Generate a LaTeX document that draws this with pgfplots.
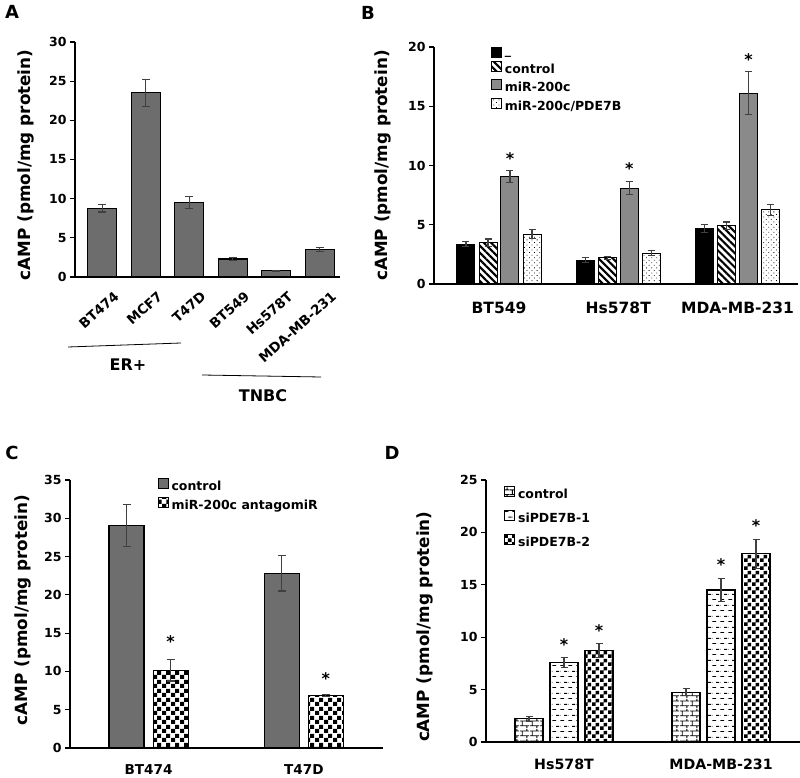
\documentclass[border=0pt]{standalone}
\usepackage{pgfplots}
\pgfplotsset{compat=1.18}
\usetikzlibrary{patterns,patterns.meta}
\usepackage{fontspec}
\setmainfont{DejaVu Sans}
\newcommand\ft[1]{\fontsize{#1}{#1}\selectfont\bfseries}
\definecolor{barA}{HTML}{6D6D6D}
\definecolor{barB}{HTML}{8A8A8A}
\definecolor{barC}{HTML}{6E6E6E}
\definecolor{errc}{HTML}{404040}

\tikzdeclarepattern{
  name=bricksD,
  bottom left={(0pt,0pt)}, top right={(10pt,10pt)}, tile size={(10pt,10pt)},
  code={\draw[line width=0.9pt] (0pt,2.5pt)--(10pt,2.5pt) (0pt,7.5pt)--(10pt,7.5pt) (2.5pt,2.5pt)--(2.5pt,7.5pt) (7.5pt,7.5pt)--(7.5pt,10pt) (7.5pt,0pt)--(7.5pt,2.5pt);}
}
\tikzdeclarepattern{
  name=dashD,
  bottom left={(0pt,0pt)}, top right={(8pt,11pt)}, tile size={(8pt,11pt)},
  code={\draw[line width=0.9pt] (0.5pt,2.75pt)--(4.5pt,2.75pt) (4.5pt,8.25pt)--(8pt,8.25pt) (0pt,8.25pt)--(0.5pt,8.25pt);}
}
\tikzdeclarepattern{
  name=checkC,
  bottom left={(0pt,0pt)}, top right={(9pt,9pt)}, tile size={(9pt,9pt)},
  code={\fill (0pt,0pt) rectangle (4.5pt,4.5pt) (4.5pt,4.5pt) rectangle (9pt,9pt);}
}
\tikzdeclarepattern{
  name=checkD,
  bottom left={(0pt,0pt)}, top right={(8pt,8pt)}, tile size={(8pt,8pt)},
  code={\fill (0pt,0pt) rectangle (4pt,4pt) (4pt,4pt) rectangle (8pt,8pt);}
}

\tikzset{astk/.style={font=\ft{16}, yshift=-3pt},
         plet/.style={font=\ft{18}}}
\pgfplotsset{
  panel/.style={
    scale only axis, anchor=south west,
    axis lines=left, axis line style={-, line width=1.3pt},
    ymin=0, tick align=outside, major tick length=5pt,
    ytick style={line width=1.1pt, black},
    xtick style={draw=none},
    /pgf/number format/assume math mode=true,
    yticklabel style={font=\ft{12.5}},
    xticklabel style={font=\ft{14}},
    ylabel={cAMP (pmol/mg protein)},
    ylabel style={font=\ft{16.8}, anchor=center},
    clip=false,
    legend cell align=left,
    legend style={draw=none, fill=none, font=\ft{12.5}, anchor=north west,
      nodes={inner sep=2pt}, /tikz/every odd column/.append style={column sep=1pt}},
    legend image code/.code={\draw[##1, line width=0.8pt] (0pt,-2pt) rectangle (10pt,8pt);},
    error bars/y dir=both, error bars/y explicit,
    error bars/error bar style={line width=1.1pt, color=errc},
    error bars/error mark options={rotate=90, line width=1.1pt, color=errc, mark size=4pt},
  },
}

\begin{document}
\begin{tikzpicture}[x=1pt,y=1pt]
\useasboundingbox (0,0) rectangle (800,777);

% ---------------- Panel A
\begin{axis}[panel, at={(75pt,500pt)}, width=265pt, height=235pt,
  xmin=-0.63, xmax=5.47, ymax=30, ytick={0,5,...,30},
  xtick={0,1,2,3,4,5},
  xticklabels={BT474,MCF7,T47D,BT549,Hs578T,MDA-MB-231},
  xticklabel style={rotate=42, anchor=north east, font=\ft{13.5}, xshift=6pt, yshift=-10pt},
  ylabel style={at={(axis description cs:-0.185,0.477)}}]
\addplot[ybar, bar width=29pt, bar shift=0pt, fill=barA, draw=black, line width=1.1pt]
  coordinates {(0,8.8) +- (0,0.5) (1,23.5) +- (0,1.75) (2,9.5) +- (0,0.8)
               (3,2.3) +- (0,0.15) (4,0.8) +- (0,0.08) (5,3.5) +- (0,0.3)};
\end{axis}
\draw[line width=0.8pt] (68,430) -- (181,434);
\node[font=\ft{16}] at (128,412) {ER+};
\draw[line width=0.8pt] (202,402) -- (321,400);
\node[font=\ft{16}] at (263,381) {TNBC};

% ---------------- Panel B
\begin{axis}[panel, at={(434pt,493pt)}, width=364pt, height=237pt,
  xmin=-0.545, xmax=2.507, ymax=20, ytick={0,5,...,20},
  xtick={0,1,2}, xticklabels={BT549,Hs578T,MDA-MB-231},
  xticklabel style={font=\ft{15.5}, yshift=-9pt},
  ylabel style={at={(axis description cs:-0.14,0.5)}},
  legend style={at={(axis description cs:0.148,1.008)}, row sep=2.5pt},
  error bars/error mark options={rotate=90, line width=1.1pt, color=errc, mark size=3.5pt}]
\addplot[ybar, bar width=18pt, bar shift=0pt, fill=black, draw=black, line width=1pt]
  coordinates {(-0.277,3.35) +- (0,0.22) (0.723,2.0) +- (0,0.2) (1.723,4.7) +- (0,0.34)};
\addplot[ybar, bar width=18pt, bar shift=0pt, fill=white, draw=black, line width=1pt,
  postaction={pattern={Lines[angle=-45,distance=5pt,line width=2.1pt]}}]
  coordinates {(-0.092,3.5) +- (0,0.3) (0.908,2.2) +- (0,0.15) (1.908,4.9) +- (0,0.33)};
\addplot[ybar, bar width=18pt, bar shift=0pt, fill=barB, draw=black, line width=1pt]
  coordinates {(0.092,9.05) +- (0,0.5) (1.092,8.1) +- (0,0.56) (2.092,16.1) +- (0,1.83)};
\addplot[ybar, bar width=18pt, bar shift=0pt, fill=white, draw=black, line width=1pt,
  postaction={pattern={Dots[radius=0.55pt,distance=3.6pt,angle=45]}}]
  coordinates {(0.277,4.2) +- (0,0.37) (1.277,2.6) +- (0,0.2) (2.277,6.25) +- (0,0.47)};
\legend{\_,control,miR-200c,miR-200c/PDE7B}
\node[astk] at (axis cs:0.092,10.8) {*};
\node[astk] at (axis cs:1.092,10.0) {*};
\node[astk] at (axis cs:2.092,19.2) {*};
\end{axis}

% ---------------- Panel C
\begin{axis}[panel, at={(70pt,29pt)}, width=313pt, height=268pt,
  xmin=-0.506, xmax=1.51, ymax=35, ytick={0,5,...,35},
  xtick={0,1}, xticklabels={BT474,T47D},
  xticklabel style={font=\ft{13.6}, yshift=-8pt},
  ylabel style={at={(axis description cs:-0.15,0.515)}},
  legend style={at={(axis description cs:0.27,1.015)}, row sep=3pt}]
\addplot[ybar, bar width=35pt, bar shift=0pt, fill=barC, draw=black, line width=1.1pt]
  coordinates {(-0.142,29.1) +- (0,2.75) (0.858,22.8) +- (0,2.3)};
\addplot[ybar, bar width=35pt, bar shift=0pt, fill=white, draw=black, line width=1.1pt,
  postaction={pattern=checkC}]
  coordinates {(0.142,10.15) +- (0,1.4) (1.142,6.85) +- (0,0.1)};
\legend{control,miR-200c antagomiR}
\node[astk] at (axis cs:0.142,14.3) {*};
\node[astk] at (axis cs:1.142,9.5) {*};
\end{axis}

% ---------------- Panel D
\begin{axis}[panel, at={(486pt,35pt)}, width=314pt, height=262pt,
  xmin=-0.497, xmax=1.503, ymax=25, ytick={0,5,...,25},
  xtick={0,1}, xticklabels={Hs578T,MDA-MB-231},
  xticklabel style={font=\ft{14.2}, yshift=-8pt},
  ylabel style={at={(axis description cs:-0.194,0.44)}},
  legend style={at={(axis description cs:0.048,0.985)}, row sep=8pt},
  error bars/error mark options={rotate=90, line width=1.1pt, color=errc, mark size=3.5pt}]
\addplot[ybar, bar width=28pt, bar shift=0pt, fill=white, draw=black, line width=1.1pt,
  postaction={pattern=bricksD}]
  coordinates {(-0.223,2.2) +- (0,0.25) (0.777,4.76) +- (0,0.32)};
\addplot[ybar, bar width=28pt, bar shift=0pt, fill=white, draw=black, line width=1.1pt,
  postaction={pattern=dashD}]
  coordinates {(0,7.6) +- (0,0.5) (1,14.5) +- (0,1.08)};
\addplot[ybar, bar width=28pt, bar shift=0pt, fill=white, draw=black, line width=1.1pt,
  postaction={pattern=checkD}]
  coordinates {(0.223,8.7) +- (0,0.67) (1.223,17.95) +- (0,1.4)};
\legend{control,siPDE7B-1,siPDE7B-2}
\node[astk] at (axis cs:0,9.6) {*};
\node[astk] at (axis cs:0.223,10.9) {*};
\node[astk] at (axis cs:1,17.2) {*};
\node[astk] at (axis cs:1.223,20.9) {*};
\end{axis}

% panel letters
\node[plet] at (12,765) {A};
\node[plet] at (368,764) {B};
\node[plet] at (12,324) {C};
\node[plet] at (392,324) {D};
\end{tikzpicture}
\end{document}
